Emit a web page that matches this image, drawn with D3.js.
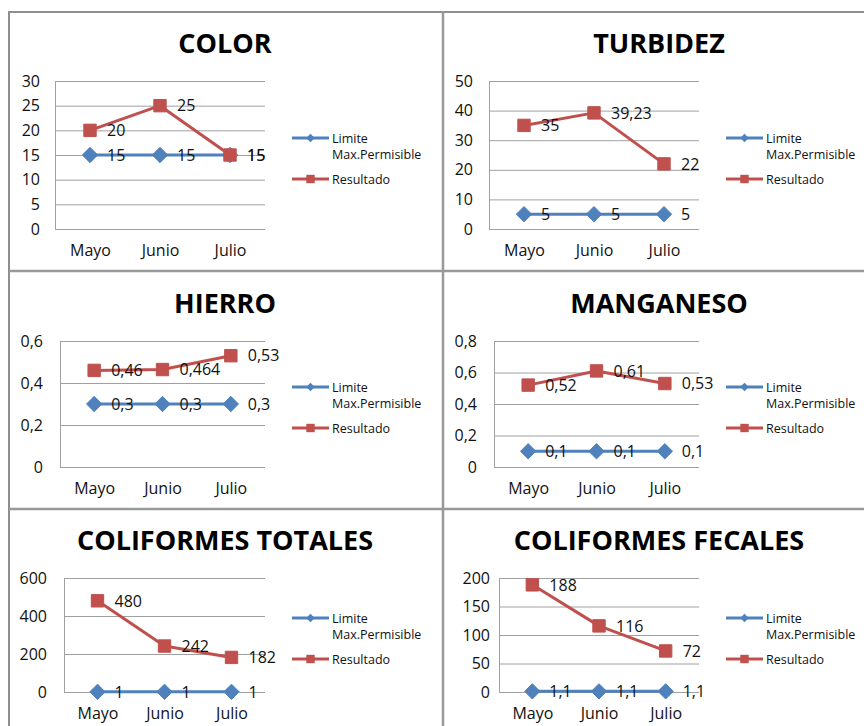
<!DOCTYPE html>
<html>
<head>
<meta charset="utf-8">
<script src="https://cdn.jsdelivr.net/npm/d3@7"></script>
<style>
  html, body { margin: 0; padding: 0; background: #fff; }
  svg { display: block; }
  text { font-family: "Open Sans", "Liberation Sans", sans-serif; }
</style>
</head>
<body>
<svg id="chart" width="864" height="726"></svg>
<script>
// Monthly water-quality results against the maximum permissible limit
const months = ["Mayo", "Junio", "Julio"];
const seriesNames = ["Limite Max.Permisible", "Resultado"];

const colorLimite = [15, 15, 15];
const colorResultado = [20, 25, 15];
const colorTicks = [0, 5, 10, 15, 20, 25, 30];

const turbidezLimite = [5, 5, 5];
const turbidezResultado = [35, 39.23, 22];
const turbidezTicks = [0, 10, 20, 30, 40, 50];

const hierroLimite = [0.3, 0.3, 0.3];
const hierroResultado = [0.46, 0.464, 0.53];
const hierroTicks = [0, 0.2, 0.4, 0.6];

const manganesoLimite = [0.1, 0.1, 0.1];
const manganesoResultado = [0.52, 0.61, 0.53];
const manganesoTicks = [0, 0.2, 0.4, 0.6, 0.8];

const totalesLimite = [1, 1, 1];
const totalesResultado = [480, 242, 182];
const totalesTicks = [0, 200, 400, 600];

const fecalesLimite = [1.1, 1.1, 1.1];
const fecalesResultado = [188, 116, 72];
const fecalesTicks = [0, 50, 100, 150, 200];

const BLUE = "#4F81BD", RED = "#C0504D", GRID = "#a0a0a0", FRAME = "#8e8e8e";

// Comma as the decimal separator
const fmt = v => String(v).replace(".", ",");

// One entry per chart cell: data plus where the cell sits on the page
const panels = [
  { title: "COLOR", limite: colorLimite, resultado: colorResultado, ticks: colorTicks,
    left: 9, top: 12, titleY: 43, x0: 55, x1: 265, yTop: 81, yBot: 229, tickRight: 40, legY: 138 },
  { title: "TURBIDEZ", limite: turbidezLimite, resultado: turbidezResultado, ticks: turbidezTicks,
    left: 443, top: 12, titleY: 43, x0: 489, x1: 699, yTop: 81, yBot: 229, tickRight: 473, legY: 138 },
  { title: "HIERRO", limite: hierroLimite, resultado: hierroResultado, ticks: hierroTicks,
    left: 9, top: 271, titleY: 303, x0: 60, x1: 265, yTop: 341, yBot: 467, tickRight: 43, legY: 387 },
  { title: "MANGANESO", limite: manganesoLimite, resultado: manganesoResultado, ticks: manganesoTicks,
    left: 443, top: 271, titleY: 303, x0: 494, x1: 699, yTop: 341, yBot: 467, tickRight: 477, legY: 387 },
  { title: "COLIFORMES TOTALES", limite: totalesLimite, resultado: totalesResultado, ticks: totalesTicks,
    left: 9, top: 509, titleY: 540, x0: 64, x1: 265, yTop: 578, yBot: 692, tickRight: 47, legY: 618 },
  { title: "COLIFORMES FECALES", limite: fecalesLimite, resultado: fecalesResultado, ticks: fecalesTicks,
    left: 443, top: 509, titleY: 540, x0: 499, x1: 699, yTop: 578, yBot: 692, tickRight: 490, legY: 618 }
];

const svg = d3.select("#chart");

// Cell frame lines
const frame = svg.append("g").attr("stroke", FRAME).attr("fill", "none");
frame.append("line").attr("x1", 9).attr("x2", 864).attr("y1", 12).attr("y2", 12).attr("stroke-width", 2);
frame.append("line").attr("x1", 9).attr("x2", 9).attr("y1", 11).attr("y2", 726).attr("stroke-width", 2);
frame.append("line").attr("x1", 443).attr("x2", 443).attr("y1", 11).attr("y2", 726).attr("stroke-width", 2.5).attr("stroke", "#999");
frame.append("line").attr("x1", 9).attr("x2", 864).attr("y1", 271).attr("y2", 271).attr("stroke-width", 2.5).attr("stroke", "#999");
frame.append("line").attr("x1", 9).attr("x2", 864).attr("y1", 509).attr("y2", 509).attr("stroke-width", 2.5).attr("stroke", "#999");

const diamond = d3.symbol().type(d3.symbolDiamond2);
const square = d3.symbol().type(d3.symbolSquare2);

panels.forEach(p => {
  const g = svg.append("g");
  const x = d3.scalePoint().domain(months).range([p.x0, p.x1]).padding(0.5);
  const yMax = p.ticks[p.ticks.length - 1];
  const y = d3.scaleLinear().domain([0, yMax]).range([p.yBot, p.yTop]);

  // Title
  g.append("text")
    .attr("x", (p.left + 434 / 2) - 1)
    .attr("y", p.titleY)
    .attr("dy", "0.36em")
    .attr("text-anchor", "middle")
    .attr("font-size", 27)
    .attr("font-weight", 700)
    .attr("fill", "#000")
    .text(p.title);

  // Value axis with horizontal gridlines
  const yAxis = d3.axisLeft(y)
    .tickValues(p.ticks)
    .tickFormat(fmt)
    .tickSizeInner(-(p.x1 - p.x0))
    .tickSizeOuter(0)
    .tickPadding(p.x0 - p.tickRight);
  const ya = g.append("g").attr("transform", `translate(${p.x0},0)`).call(yAxis);
  ya.select(".domain").attr("stroke", GRID).attr("stroke-width", 1);
  ya.selectAll(".tick line").attr("stroke", GRID).attr("stroke-width", 1);
  ya.selectAll(".tick text").attr("font-size", 16).attr("fill", "#111")
    .attr("font-family", "'Open Sans', sans-serif");

  // Category axis labels
  const xAxis = d3.axisBottom(x).tickSize(0).tickPadding(16);
  const xa = g.append("g").attr("transform", `translate(0,${p.yBot})`).call(xAxis);
  xa.select(".domain").remove();
  xa.selectAll(".tick text").attr("font-size", 16).attr("fill", "#111")
    .attr("font-family", "'Open Sans', sans-serif");

  const line = d3.line().x((d, i) => x(months[i])).y(d => y(d));
  const series = [
    { values: p.limite, color: BLUE, sym: diamond, size: 150 },
    { values: p.resultado, color: RED, sym: square, size: 196 }
  ];

  series.forEach(s => {
    g.append("path")
      .datum(s.values)
      .attr("d", line)
      .attr("fill", "none")
      .attr("stroke", s.color)
      .attr("stroke-width", 3)
      .attr("stroke-linejoin", "round");
    g.selectAll(null)
      .data(s.values)
      .join("path")
      .attr("transform", (d, i) => `translate(${x(months[i])},${y(d)})`)
      .attr("d", s.sym.size(s.size)())
      .attr("fill", s.color)
      .attr("stroke", s.color)
      .attr("stroke-width", 1);
  });

  // Data labels to the right of each point
  series.forEach(s => {
    g.selectAll(null)
      .data(s.values)
      .join("text")
      .attr("x", (d, i) => x(months[i]) + 17)
      .attr("y", d => y(d))
      .attr("dy", "0.36em")
      .attr("font-size", 16)
      .attr("fill", "#111")
      .text(fmt);
  });

  // Legend
  const lx = p.left + 283;
  const legend = [
    { y: p.legY, color: BLUE, sym: diamond, size: 45, lines: ["Limite", "Max.Permisible"] },
    { y: p.legY + 41, color: RED, sym: square, size: 90, lines: ["Resultado"] }
  ];
  legend.forEach(l => {
    g.append("line")
      .attr("x1", lx).attr("x2", lx + 37)
      .attr("y1", l.y).attr("y2", l.y)
      .attr("stroke", l.color).attr("stroke-width", 3);
    g.append("path")
      .attr("transform", `translate(${lx + 18.5},${l.y})`)
      .attr("d", l.sym.size(l.size)())
      .attr("fill", l.color);
    const t = g.append("text")
      .attr("x", lx + 40)
      .attr("y", l.y)
      .attr("font-size", 12.5)
      .attr("fill", "#111");
    l.lines.forEach((ln, k) => {
      t.append("tspan").attr("x", lx + 40).attr("dy", k === 0 ? "0.36em" : 16).text(ln);
    });
  });
});
</script>
</body>
</html>
